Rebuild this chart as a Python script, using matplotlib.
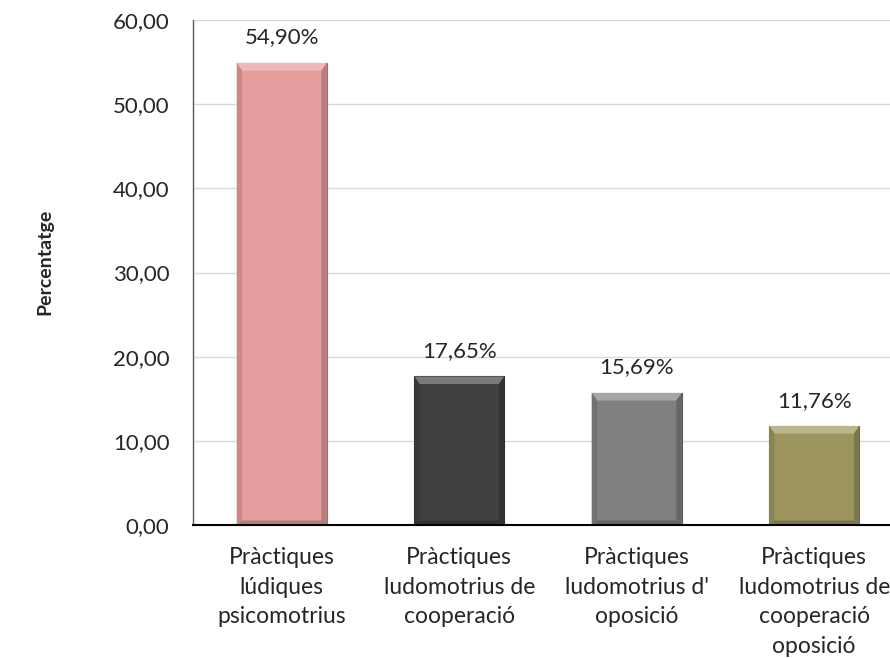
import matplotlib
matplotlib.use("Agg")
import matplotlib.pyplot as plt
from matplotlib.patches import Polygon
import matplotlib.colors as mcolors
import numpy as np

categories = ["Pràctiques\nlúdiques\npsicomotrius",
              "Pràctiques\nludomotrius de\ncooperació",
              "Pràctiques\nludomotrius d'\noposició",
              "Pràctiques\nludomotrius de\ncooperació\noposició"]
values = [54.90, 17.65, 15.69, 11.76]
colors = ["#E59C9C", "#404040", "#808080", "#9C965E"]
yticks = [0, 10, 20, 30, 40, 50, 60]

plt.rcParams['font.family'] = ['Lato', 'DejaVu Sans']

fig = plt.figure(figsize=(8.9, 6.58), dpi=100)
ax = fig.add_axes([193/890, 1-525/658, (890-193)/890, (525-20)/658])

x = np.arange(len(values))
bw = 0.507
ax.set_xlim(-0.5, 3.427)
ax.set_ylim(0, 60)

for xi, v, c in zip(x, values, colors):
    base = np.array(mcolors.to_rgb(c))
    ax.bar(xi, v, width=bw, color=c, edgecolor=tuple(base*0.7), linewidth=0.8, zorder=3)
    bx = 0.03
    by = 0.9
    l, r = xi - bw/2, xi + bw/2
    light = tuple(np.clip(base + (1-base)*0.3, 0, 1))
    dark = tuple(base*0.88)
    darker = tuple(base*0.8)
    ax.add_patch(Polygon([(l, v), (r, v), (r-bx, v-by), (l+bx, v-by)], closed=True,
                         facecolor=light, edgecolor='none', zorder=4))
    ax.add_patch(Polygon([(l, v), (l+bx, v-by), (l+bx, by*0.6), (l, 0)], closed=True,
                         facecolor=dark, edgecolor='none', zorder=4))
    ax.add_patch(Polygon([(r, v), (r-bx, v-by), (r-bx, by*0.6), (r, 0)], closed=True,
                         facecolor=darker, edgecolor='none', zorder=4))
    ax.add_patch(Polygon([(l, 0), (r, 0), (r-bx, by*0.6), (l+bx, by*0.6)], closed=True,
                         facecolor=darker, edgecolor='none', zorder=4))
    ax.text(xi, v + 2.3, f"{v:.2f}%".replace('.', ','), ha='center', va='baseline',
            fontsize=16, color='#262626', zorder=5)

ax.set_yticks(yticks)
ax.set_yticklabels([f"{t:.2f}".replace('.', ',') for t in yticks], fontsize=16, color='#262626')
ax.set_xticks(x)
ax.set_xticklabels(categories, fontsize=16.5, color='#262626', linespacing=1.5)
ax.tick_params(axis='both', length=0)
ax.tick_params(axis='x', pad=16)
ax.tick_params(axis='y', pad=17)
ax.yaxis.grid(True, color='#D9D9D9', linewidth=1, zorder=0)
ax.set_axisbelow(True)
for s in ['right', 'top']:
    ax.spines[s].set_visible(False)
ax.spines['left'].set_color('#595959')
ax.spines['left'].set_linewidth(1)
ax.spines['bottom'].set_color('black')
ax.spines['bottom'].set_linewidth(1.5)
ax.spines['bottom'].set_zorder(6)

fig.text(45/890, 1-262/658, "Percentatge", rotation=90, ha='center', va='center',
         fontsize=14, fontweight='bold', color='#262626')

fig.savefig("out.png", dpi=100)
